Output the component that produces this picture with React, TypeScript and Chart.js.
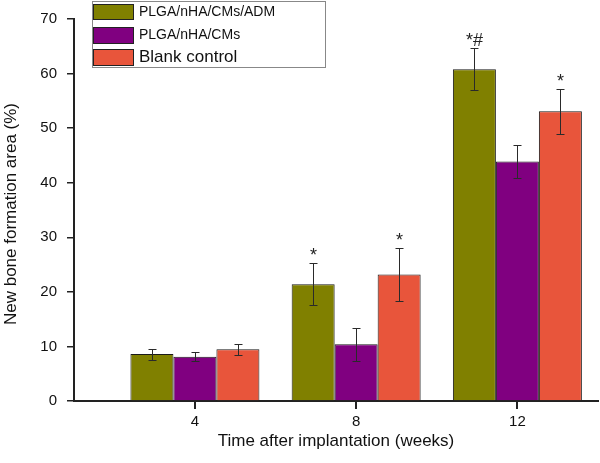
import React, { useEffect, useRef } from "react";
import { Chart, registerables } from "chart.js";

Chart.register(...registerables);

const weeks = [4, 8, 12];
const seriesNames = ["PLGA/nHA/CMs/ADM", "PLGA/nHA/CMs", "Blank control"];
const admMean = [8.6, 21.4, 60.8];
const admErr = [1.0, 3.8, 3.8];
const cmsMean = [8.1, 10.4, 43.9];
const cmsErr = [0.8, 3.0, 3.0];
const blankMean = [9.5, 23.2, 53.1];
const blankErr = [1.0, 4.9, 4.1];
const admMarks = ["", "*", "*#"];
const cmsMarks = ["", "", ""];
const blankMarks = ["", "*", "*"];
const seriesColors = ["#808000", "#800080", "#E8553B"];
const yTitle = "New bone formation area (%)";
const xTitle = "Time after implantation (weeks)";

const means = [admMean, cmsMean, blankMean];
const errs = [admErr, cmsErr, blankErr];
const marks = [admMarks, cmsMarks, blankMarks];

const FONT = "'Liberation Sans', Arial, sans-serif";

const customPlugin = {
  id: "custom",
  afterDatasetsDraw(chart: any) {
    const ctx = chart.ctx;
    const y = chart.scales.y;
    ctx.save();
    means.forEach((m, di) => {
      const meta = chart.getDatasetMeta(di);
      meta.data.forEach((el: any, i: number) => {
        const x = Math.round(el.x) + 0.5;
        const top = Math.round(y.getPixelForValue(m[i] + errs[di][i])) + 0.5;
        const bot = Math.round(y.getPixelForValue(m[i] - errs[di][i])) + 0.5;
        ctx.strokeStyle = "#2a2a2a";
        ctx.lineWidth = 1;
        ctx.beginPath();
        ctx.moveTo(x, top);
        ctx.lineTo(x, bot);
        ctx.moveTo(x - 4, top);
        ctx.lineTo(x + 4, top);
        ctx.moveTo(x - 4, bot);
        ctx.lineTo(x + 4, bot);
        ctx.stroke();
        const mk = marks[di][i];
        if (mk) {
          ctx.fillStyle = "#222";
          ctx.font = `18px ${FONT}`;
          ctx.textAlign = "center";
          ctx.textBaseline = "alphabetic";
          ctx.fillText(mk, x, top - 3);
        }
      });
    });
    ctx.restore();
  },
  afterDraw(chart: any) {
    const ctx = chart.ctx;
    const area = chart.chartArea;
    const xs = chart.scales.x;
    ctx.save();
    // x tick marks
    ctx.fillStyle = "#222";
    weeks.forEach((w) => {
      const px = Math.round(xs.getPixelForValue(w));
      ctx.fillRect(px - 1, area.bottom, 2, 8);
    });
    // axis titles
    ctx.fillStyle = "#111";
    ctx.font = `17px ${FONT}`;
    ctx.textAlign = "center";
    ctx.textBaseline = "middle";
    ctx.fillText(xTitle, (area.left + area.right) / 2, 441);
    ctx.save();
    ctx.translate(11, (area.top + area.bottom) / 2 + 4);
    ctx.rotate(-Math.PI / 2);
    ctx.fillText(yTitle, 0, 0);
    ctx.restore();
    // legend
    ctx.fillStyle = "#fff";
    ctx.fillRect(92.5, 1.5, 233, 66);
    ctx.strokeStyle = "#888";
    ctx.lineWidth = 1;
    ctx.strokeRect(92.5, 1.5, 233, 66);
    const rows = [
      [4, 19, 12.5, 14],
      [27, 43, 35, 14],
      [49, 65, 57.5, 17],
    ];
    rows.forEach((r, i) => {
      ctx.fillStyle = seriesColors[i];
      ctx.fillRect(93.5, r[0] + 0.5, 40, r[1] - r[0]);
      ctx.strokeStyle = "#222";
      ctx.strokeRect(93.5, r[0] + 0.5, 40, r[1] - r[0]);
      ctx.fillStyle = "#111";
      ctx.font = `${r[3]}px ${FONT}`;
      ctx.textAlign = "left";
      ctx.textBaseline = "middle";
      ctx.fillText(seriesNames[i], 139, r[2]);
    });
    ctx.restore();
  },
};

export default function App() {
  const ref = useRef<HTMLCanvasElement>(null);
  useEffect(() => {
    document.body.style.margin = "0";
    const chart = new Chart(ref.current as HTMLCanvasElement, {
      type: "bar",
      data: {
        datasets: means.map((m, di) => ({
          label: seriesNames[di],
          data: weeks.map((w, i) => ({ x: w, y: m[i] })),
          backgroundColor: seriesColors[di],
          borderColor: "#1a1a1a",
          borderWidth: 1,
          categoryPercentage: 0.8,
          barPercentage: 1,
        })),
      } as any,
      options: {
        responsive: false,
        animation: false,
        layout: { padding: { top: 12, right: 2, left: 0, bottom: 0 } },
        plugins: { legend: { display: false }, tooltip: { enabled: false } },
        scales: {
          x: {
            type: "linear",
            min: 1,
            max: 14,
            offset: false,
            afterBuildTicks: (s: any) => {
              s.ticks = weeks.map((v) => ({ value: v }));
            },
            afterFit: (s: any) => {
              s.height = 62;
            },
            ticks: {
              font: { family: FONT, size: 15 },
              color: "#111",
              padding: 12,
              callback: (v: any) => String(v),
            },
            grid: { display: false, drawTicks: false },
            border: { display: true, color: "#222", width: 2 },
          },
          y: {
            min: 0,
            max: 70,
            ticks: {
              stepSize: 10,
              font: { family: FONT, size: 15 },
              color: "#111",
              padding: 10,
            },
            afterFit: (s: any) => {
              s.width = 74;
            },
            grid: {
              display: true,
              drawOnChartArea: false,
              drawTicks: true,
              tickLength: 7,
              color: "#222",
              lineWidth: 1.5,
            },
            border: { display: true, color: "#222", width: 2 },
          },
        },
      } as any,
      plugins: [customPlugin],
    });
    return () => chart.destroy();
  }, []);
  return (
    <div style={{ width: 600, height: 463 }}>
      <canvas ref={ref} width={600} height={463} />
    </div>
  );
}
